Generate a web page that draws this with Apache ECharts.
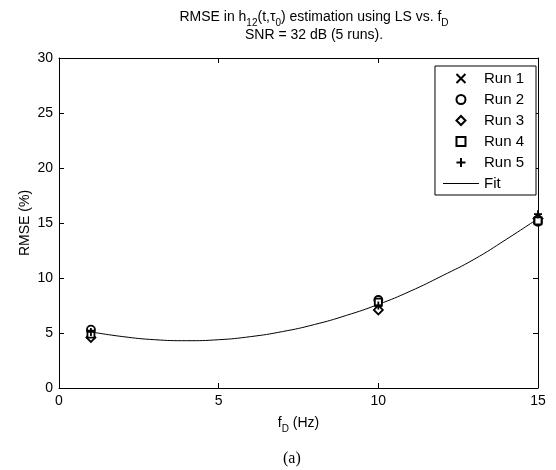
<!DOCTYPE html>
<html>
<head>
<meta charset="utf-8">
<script src="https://cdn.jsdelivr.net/npm/echarts@6/dist/echarts.min.js"></script>
<style>
  html, body { margin: 0; padding: 0; background: #fff; }
  #chart { width: 556px; height: 470px; }
</style>
</head>
<body>
<div id="chart"></div>
<script>
// Doppler frequencies (Hz)
const freqs = [1, 10, 15]
// RMSE (%) per run
const run1 = [5.0, 7.6, 15.3]
const run2 = [5.3, 8.0, 15.1]
const run3 = [4.6, 7.1, 15.4]
const run4 = [4.9, 7.8, 15.2]
const run5 = [5.1, 7.5, 15.8]
// fit curve
const fitX = [1, 2, 3, 4, 5, 6, 7, 8, 9, 10, 11, 12, 13, 14, 15]
const fitY = [5.1, 4.67, 4.39, 4.3, 4.39, 4.67, 5.13, 5.77, 6.6, 7.6, 8.8, 10.2, 11.7, 13.5, 15.4]
const xTicks = [0, 5, 10, 15]
const yTicks = [0, 5, 10, 15, 20, 25, 30]

const font = 'Liberation Sans'
// path symbols so the legend keeps their aspect
const crossPath = 'path://M0,0L10,10M10,0L0,10'
const plusPath = 'path://M5,0L5,10M0,5L10,5'
const diamondPath = 'path://M5,0L10,5L5,10L0,5Z'
const squarePath = 'path://M0,0L10,0L10,10L0,10Z'
const linePath = 'path://M0,0L36,0L36,1L0,1Z'

function pts(ys) {
  return freqs.map((f, i) => [f, ys[i]])
}

function runSeries(name, ys, symbol, size) {
  return {
    name: name,
    type: 'scatter',
    data: pts(ys),
    symbol: symbol,
    symbolSize: size,
    symbolKeepAspect: true,
    itemStyle: { color: '#fff', borderColor: '#000', borderWidth: 1.8, opacity: 1 },
    z: 5
  }
}

const chart = echarts.init(document.getElementById('chart'))
const rich = {
  n: { fontFamily: font, fontSize: 14, color: '#000', lineHeight: 18, verticalAlign: 'top' },
  s: { fontFamily: font, fontSize: 10, color: '#000', lineHeight: 9, verticalAlign: 'bottom' }
}

// ticks point into the plot on all four sides
const tick = { show: true, inside: true, length: 5, lineStyle: { color: '#000', width: 1 } }
const line = { show: true, onZero: false, lineStyle: { color: '#000', width: 1 } }

chart.setOption({
  animation: false,
  backgroundColor: '#fff',
  title: {
    text: '{n|RMSE in h}{s|12}{n|(t,τ}{s|0}{n|) estimation using LS vs. f}{s|D}\n{n|SNR = 32 dB (5 runs).}',
    left: 309,
    top: 5,
    textAlign: 'center',
    textStyle: { fontWeight: 'normal', rich: rich }
  },
  grid: { left: 59, right: 18, top: 58, bottom: 82 },
  legend: {
    orient: 'vertical',
    right: 20,
    top: 66,
    padding: [5, 12, 4, 8],
    itemWidth: 36,
    itemHeight: 9,
    itemGap: 6,
    symbolKeepAspect: true,
    borderColor: '#000',
    borderWidth: 1,
    backgroundColor: '#fff',
    textStyle: { fontFamily: font, fontSize: 15, color: '#000' },
    data: ['Run 1', 'Run 2', 'Run 3', 'Run 4', 'Run 5',
      { name: 'Fit', icon: linePath, itemStyle: { color: '#000', borderWidth: 0 } }]
  },
  xAxis: [
    {
      type: 'value', min: 0, max: 15, interval: 5,
      name: '{n|f}{s|D}{n| (Hz)}',
      nameLocation: 'middle', nameGap: 28,
      nameTextStyle: { rich: rich },
      axisLine: line,
      axisTick: tick,
      axisLabel: { color: '#000', fontFamily: font, fontSize: 14, margin: 6,
        formatter: v => xTicks.includes(v) ? String(v) : '' },
      splitLine: { show: false }
    },
    {
      type: 'value', min: 0, max: 15, interval: 5, position: 'top',
      axisLine: line,
      axisTick: tick,
      axisLabel: { show: false },
      splitLine: { show: false }
    }
  ],
  yAxis: [
    {
      type: 'value', min: 0, max: 30, interval: 5, position: 'left',
      name: 'RMSE (%)',
      nameLocation: 'middle', nameGap: 27,
      nameMoveOverlap: false,
      nameTextStyle: { fontFamily: font, fontSize: 14, color: '#000' },
      axisLine: line,
      axisTick: tick,
      axisLabel: { color: '#000', fontFamily: font, fontSize: 14, margin: 6,
        formatter: v => yTicks.includes(v) ? String(v) : '' },
      splitLine: { show: false }
    },
    {
      type: 'value', min: 0, max: 30, interval: 5, position: 'right',
      axisLine: line,
      axisTick: tick,
      axisLabel: { show: false },
      splitLine: { show: false }
    }
  ],
  series: [
    runSeries('Run 1', run1, crossPath, 6),
    runSeries('Run 2', run2, 'circle', 8),
    runSeries('Run 3', run3, diamondPath, 9),
    runSeries('Run 4', run4, squarePath, 7),
    runSeries('Run 5', run5, plusPath, 8),
    {
      name: 'Fit',
      type: 'line',
      data: fitX.map((f, i) => [f, fitY[i]]),
      smooth: true,
      showSymbol: false,
      lineStyle: { color: '#000', width: 1 },
      itemStyle: { color: '#000' },
      z: 3
    }
  ],
  graphic: [
    {
      type: 'text',
      left: 283,
      top: 451,
      style: { text: '(a)', font: '16px "Liberation Serif"', fill: '#000' }
    }
  ]
})
</script>
</body>
</html>
